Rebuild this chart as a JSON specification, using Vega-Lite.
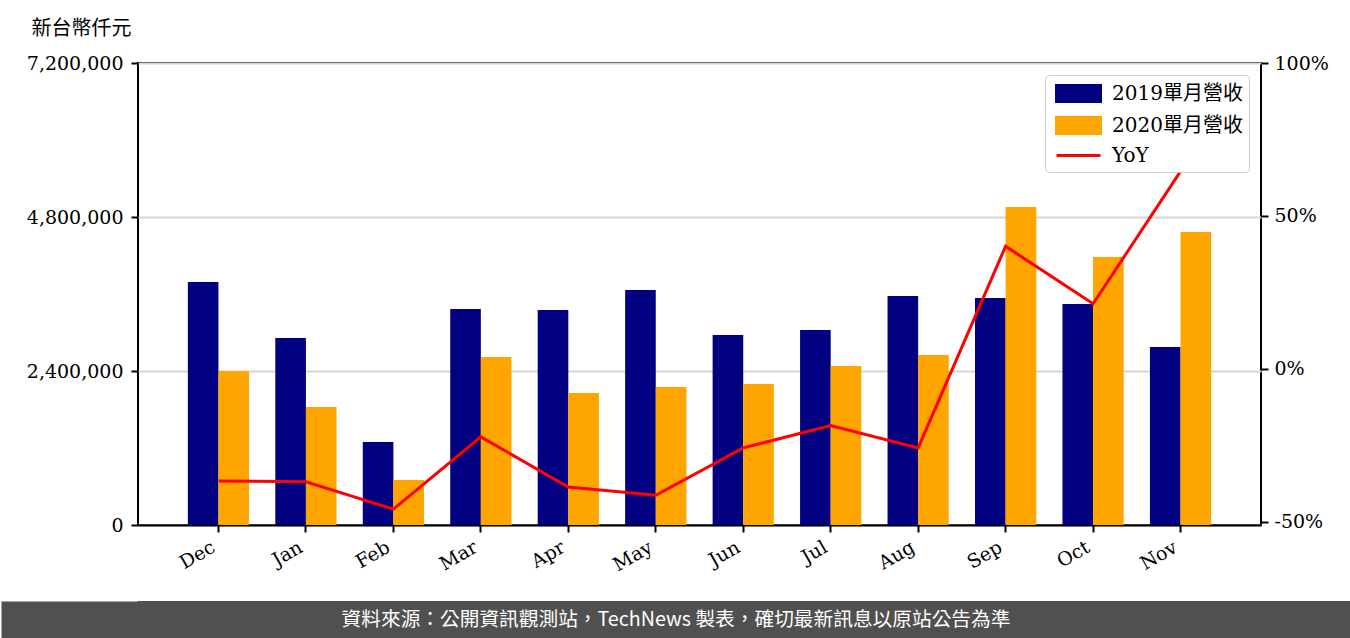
{
  "$schema": "https://vega.github.io/schema/vega-lite/v6.json",
  "background": "white",
  "padding": {"left": -18, "top": 17, "right": 0, "bottom": 0},
  "config": {
    "font": "DejaVu Serif, Noto Sans CJK TC",
    "axis": {"labelFont": "DejaVu Serif, Noto Sans CJK TC", "labelFontSize": 19, "labelColor": "black", "tickColor": "black", "tickWidth": 2, "tickSize": 7, "domainColor": "black", "domainWidth": 2}
  },
  "datasets": {
    "bars": [
      {"month": "Dec", "series": "2019單月營收", "value": 3787000},
      {"month": "Jan", "series": "2019單月營收", "value": 2914000},
      {"month": "Feb", "series": "2019單月營收", "value": 1293000},
      {"month": "Mar", "series": "2019單月營收", "value": 3366000},
      {"month": "Apr", "series": "2019單月營收", "value": 3350000},
      {"month": "May", "series": "2019單月營收", "value": 3662000},
      {"month": "Jun", "series": "2019單月營收", "value": 2961000},
      {"month": "Jul", "series": "2019單月營收", "value": 3039000},
      {"month": "Aug", "series": "2019單月營收", "value": 3569000},
      {"month": "Sep", "series": "2019單月營收", "value": 3537000},
      {"month": "Oct", "series": "2019單月營收", "value": 3444000},
      {"month": "Nov", "series": "2019單月營收", "value": 2774000},
      {"month": "Dec", "series": "2020單月營收", "value": 2400000},
      {"month": "Jan", "series": "2020單月營收", "value": 1839000},
      {"month": "Feb", "series": "2020單月營收", "value": 701000},
      {"month": "Mar", "series": "2020單月營收", "value": 2618000},
      {"month": "Apr", "series": "2020單月營收", "value": 2057000},
      {"month": "May", "series": "2020單月營收", "value": 2151000},
      {"month": "Jun", "series": "2020單月營收", "value": 2197000},
      {"month": "Jul", "series": "2020單月營收", "value": 2478000},
      {"month": "Aug", "series": "2020單月營收", "value": 2649000},
      {"month": "Sep", "series": "2020單月營收", "value": 4956000},
      {"month": "Oct", "series": "2020單月營收", "value": 4176000},
      {"month": "Nov", "series": "2020單月營收", "value": 4566000}
    ],
    "yoy": [
      {"month": "Dec", "yoy": -36.6},
      {"month": "Jan", "yoy": -36.9},
      {"month": "Feb", "yoy": -45.8},
      {"month": "Mar", "yoy": -22.2},
      {"month": "Apr", "yoy": -38.6},
      {"month": "May", "yoy": -41.3},
      {"month": "Jun", "yoy": -25.8},
      {"month": "Jul", "yoy": -18.5},
      {"month": "Aug", "yoy": -25.8},
      {"month": "Sep", "yoy": 40.1},
      {"month": "Oct", "yoy": 21.3},
      {"month": "Nov", "yoy": 64.6}
    ],
    "footer": [
      {"text": "資料來源：公開資訊觀測站，TechNews 製表，確切最新訊息以原站公告為準", "mid": 0.5}
    ]
  },
  "concat": [
    {
      "width": 1123,
      "height": 462,
      "view": {"stroke": "black", "strokeWidth": 2},
      "layer": [
        {
          "data": {"name": "bars"},
          "mark": {"type": "bar"},
          "encoding": {
            "x": {
              "field": "month", "type": "nominal",
              "sort": ["Dec", "Jan", "Feb", "Mar", "Apr", "May", "Jun", "Jul", "Aug", "Sep", "Oct", "Nov"],
              "scale": {"paddingInner": 0.3, "paddingOuter": 0.57},
              "axis": {"title": null, "labelAngle": -30, "labelAlign": "right", "labelBaseline": "bottom", "labelPadding": 22, "labelDx": -2}
            },
            "xOffset": {"field": "series", "type": "nominal", "scale": {"paddingInner": 0, "paddingOuter": 0}},
            "y": {
              "field": "value", "type": "quantitative",
              "scale": {"domain": [0, 7200000], "nice": false},
              "axis": {
                "orient": "left", "values": [0, 2400000, 4800000, 7200000], "format": ",d",
                "title": "新台幣仟元", "titleAngle": 0, "titleX": -107, "titleY": -35,
                "titleAlign": "left", "titleBaseline": "middle",
                "titleFont": "DejaVu Serif, Noto Sans CJK TC", "titleFontSize": 20, "titleFontWeight": "normal", "titleColor": "black",
                "grid": true, "gridColor": "#d6d6d6", "gridWidth": 2, "domain": false, "labelPadding": 8
              }
            },
            "color": {
              "field": "series", "type": "nominal",
              "scale": {"domain": ["2019單月營收", "2020單月營收", "YoY"], "range": ["#000080", "#FFA500", "#FF0000"]},
              "legend": {
                "title": null, "orient": "top-right", "offset": 12, "padding": 6,
                "fillColor": "white", "strokeColor": "#cccccc", "cornerRadius": 4,
                "labelFont": "DejaVu Serif, Noto Sans CJK TC", "labelFontSize": 20, "labelColor": "black",
                "symbolSize": 484, "labelOffset": 21, "rowPadding": 3, "symbolOffset": 15,
                "encode": {
                  "symbols": {
                    "update": {
                      "shape": {"signal": "datum.value === 'YoY' ? 'M-2,0H2' : 'M-2,-0.72H2V0.72H-2Z'"},
                      "fill": {"signal": "datum.value === 'YoY' ? 'transparent' : (datum.value === '2019單月營收' ? '#000080' : '#FFA500')"},
                      "stroke": {"signal": "datum.value === 'YoY' ? '#FF0000' : 'transparent'"},
                      "strokeWidth": {"value": 3},
                      "opacity": {"value": 1}
                    }
                  }
                }
              }
            }
          }
        },
        {
          "data": {"name": "yoy"},
          "mark": {"type": "line", "strokeWidth": 3},
          "encoding": {
            "x": {"field": "month", "type": "nominal", "bandPosition": 0.5,
              "sort": ["Dec", "Jan", "Feb", "Mar", "Apr", "May", "Jun", "Jul", "Aug", "Sep", "Oct", "Nov"]},
            "y": {
              "field": "yoy", "type": "quantitative",
              "scale": {"domain": [-51, 100], "nice": false},
              "axis": {"orient": "right", "values": [-50, 0, 50, 100], "labelExpr": "datum.value + '%'", "title": null, "grid": false, "domain": false, "labelPadding": 6}
            },
            "color": {"datum": "YoY"}
          }
        }
      ],
      "resolve": {"scale": {"y": "independent"}}
    },
    {
      "width": 1213,
      "height": 38,
      "view": {"fill": "#505050", "stroke": null},
      "data": {"name": "footer"},
      "mark": {"type": "text", "font": "Noto Sans CJK TC", "fontSize": 19.7, "color": "white", "dx": -68.5},
      "encoding": {
        "text": {"field": "text", "type": "nominal"},
        "y": {
          "field": "mid", "type": "quantitative",
          "scale": {"domain": [0, 1], "nice": false},
          "axis": {"values": [0.5], "labels": false, "domain": false, "grid": false, "title": null, "ticks": true, "tickSize": 137, "tickWidth": 38, "tickColor": "#505050", "tickCap": "butt"}
        }
      }
    }
  ],
  "columns": 1,
  "spacing": 76,
  "bounds": "flush",
  "resolve": {"legend": {"color": "independent"}}
}
